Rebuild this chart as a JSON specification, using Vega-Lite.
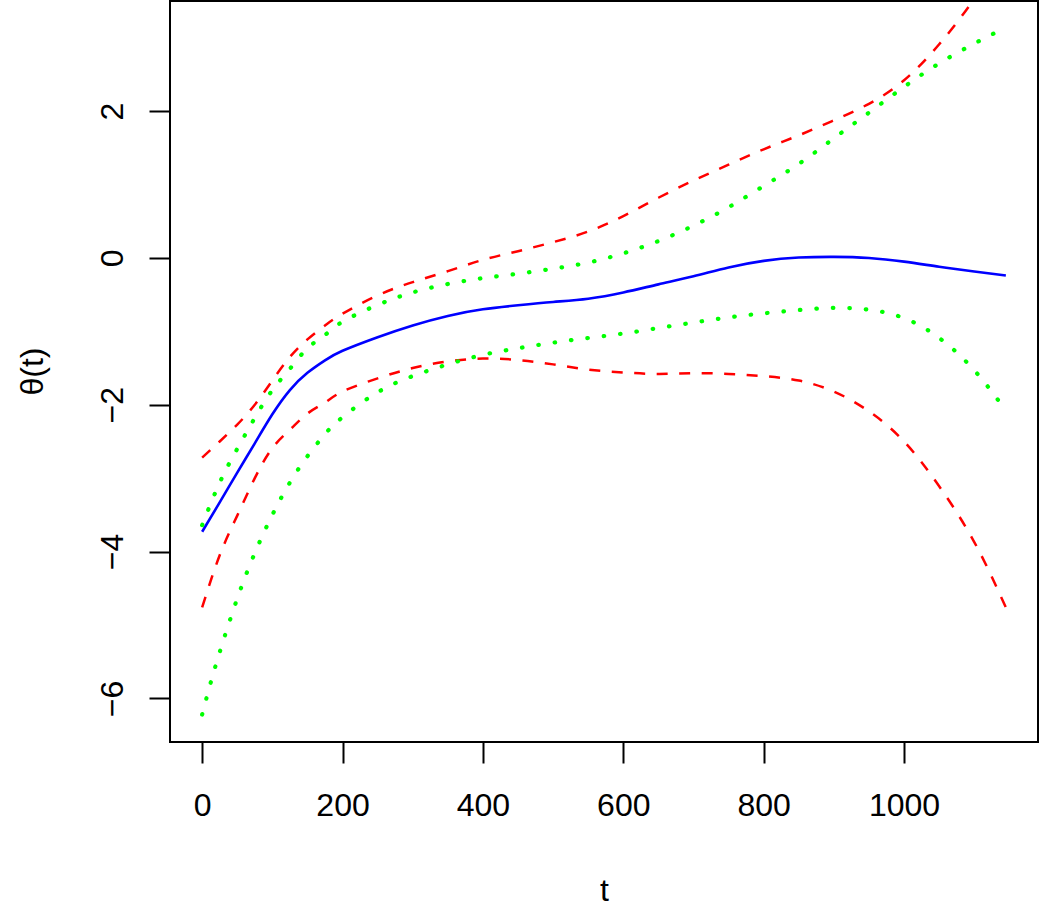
{
  "$schema": "https://vega.github.io/schema/vega-lite/v6.json",
  "width": 868,
  "height": 741,
  "autosize": "none",
  "padding": {"left": 170, "top": 1, "right": 12, "bottom": 167},
  "background": "white",
  "config": {
    "view": {"stroke": "black", "strokeWidth": 2},
    "axis": {
      "grid": false,
      "domain": false,
      "tickSize": 21,
      "tickWidth": 2,
      "tickColor": "black",
      "labelFont": "Liberation Sans",
      "labelFontSize": 32,
      "labelColor": "black",
      "labelFlush": false,
      "labelOverlap": false,
      "titleFont": "Liberation Sans",
      "titleFontSize": 32,
      "titleFontWeight": "normal",
      "titleColor": "black"
    }
  },
  "data": {
    "values": [
      {"t": 0, "v": -3.73, "kind": "fit", "curve": "fit"},
      {"t": 25, "v": -3.33, "kind": "fit", "curve": "fit"},
      {"t": 50, "v": -2.925, "kind": "fit", "curve": "fit"},
      {"t": 75, "v": -2.525, "kind": "fit", "curve": "fit"},
      {"t": 100, "v": -2.13, "kind": "fit", "curve": "fit"},
      {"t": 125, "v": -1.80, "kind": "fit", "curve": "fit"},
      {"t": 150, "v": -1.565, "kind": "fit", "curve": "fit"},
      {"t": 175, "v": -1.395, "kind": "fit", "curve": "fit"},
      {"t": 200, "v": -1.265, "kind": "fit", "curve": "fit"},
      {"t": 250, "v": -1.08, "kind": "fit", "curve": "fit"},
      {"t": 300, "v": -0.92, "kind": "fit", "curve": "fit"},
      {"t": 350, "v": -0.79, "kind": "fit", "curve": "fit"},
      {"t": 400, "v": -0.70, "kind": "fit", "curve": "fit"},
      {"t": 450, "v": -0.645, "kind": "fit", "curve": "fit"},
      {"t": 500, "v": -0.60, "kind": "fit", "curve": "fit"},
      {"t": 550, "v": -0.555, "kind": "fit", "curve": "fit"},
      {"t": 600, "v": -0.47, "kind": "fit", "curve": "fit"},
      {"t": 650, "v": -0.36, "kind": "fit", "curve": "fit"},
      {"t": 700, "v": -0.25, "kind": "fit", "curve": "fit"},
      {"t": 750, "v": -0.13, "kind": "fit", "curve": "fit"},
      {"t": 800, "v": -0.04, "kind": "fit", "curve": "fit"},
      {"t": 850, "v": 0.005, "kind": "fit", "curve": "fit"},
      {"t": 900, "v": 0.015, "kind": "fit", "curve": "fit"},
      {"t": 950, "v": 0.0, "kind": "fit", "curve": "fit"},
      {"t": 1000, "v": -0.05, "kind": "fit", "curve": "fit"},
      {"t": 1050, "v": -0.12, "kind": "fit", "curve": "fit"},
      {"t": 1100, "v": -0.185, "kind": "fit", "curve": "fit"},
      {"t": 1145, "v": -0.24, "kind": "fit", "curve": "fit"},

      {"t": 0, "v": -2.72, "kind": "ci", "curve": "ci_upper"},
      {"t": 25, "v": -2.50, "kind": "ci", "curve": "ci_upper"},
      {"t": 50, "v": -2.27, "kind": "ci", "curve": "ci_upper"},
      {"t": 75, "v": -2.00, "kind": "ci", "curve": "ci_upper"},
      {"t": 100, "v": -1.67, "kind": "ci", "curve": "ci_upper"},
      {"t": 125, "v": -1.35, "kind": "ci", "curve": "ci_upper"},
      {"t": 150, "v": -1.11, "kind": "ci", "curve": "ci_upper"},
      {"t": 175, "v": -0.92, "kind": "ci", "curve": "ci_upper"},
      {"t": 200, "v": -0.76, "kind": "ci", "curve": "ci_upper"},
      {"t": 250, "v": -0.51, "kind": "ci", "curve": "ci_upper"},
      {"t": 300, "v": -0.33, "kind": "ci", "curve": "ci_upper"},
      {"t": 350, "v": -0.18, "kind": "ci", "curve": "ci_upper"},
      {"t": 400, "v": -0.026, "kind": "ci", "curve": "ci_upper"},
      {"t": 450, "v": 0.092, "kind": "ci", "curve": "ci_upper"},
      {"t": 500, "v": 0.215, "kind": "ci", "curve": "ci_upper"},
      {"t": 550, "v": 0.36, "kind": "ci", "curve": "ci_upper"},
      {"t": 600, "v": 0.57, "kind": "ci", "curve": "ci_upper"},
      {"t": 650, "v": 0.82, "kind": "ci", "curve": "ci_upper"},
      {"t": 700, "v": 1.055, "kind": "ci", "curve": "ci_upper"},
      {"t": 750, "v": 1.27, "kind": "ci", "curve": "ci_upper"},
      {"t": 800, "v": 1.48, "kind": "ci", "curve": "ci_upper"},
      {"t": 850, "v": 1.67, "kind": "ci", "curve": "ci_upper"},
      {"t": 900, "v": 1.875, "kind": "ci", "curve": "ci_upper"},
      {"t": 950, "v": 2.10, "kind": "ci", "curve": "ci_upper"},
      {"t": 1000, "v": 2.42, "kind": "ci", "curve": "ci_upper"},
      {"t": 1050, "v": 2.91, "kind": "ci", "curve": "ci_upper"},
      {"t": 1100, "v": 3.53, "kind": "ci", "curve": "ci_upper"},
      {"t": 1145, "v": 4.2, "kind": "ci", "curve": "ci_upper"},

      {"t": 0, "v": -4.76, "kind": "ci", "curve": "ci_lower"},
      {"t": 25, "v": -4.05, "kind": "ci", "curve": "ci_lower"},
      {"t": 50, "v": -3.51, "kind": "ci", "curve": "ci_lower"},
      {"t": 75, "v": -3.00, "kind": "ci", "curve": "ci_lower"},
      {"t": 100, "v": -2.59, "kind": "ci", "curve": "ci_lower"},
      {"t": 125, "v": -2.34, "kind": "ci", "curve": "ci_lower"},
      {"t": 150, "v": -2.12, "kind": "ci", "curve": "ci_lower"},
      {"t": 175, "v": -1.97, "kind": "ci", "curve": "ci_lower"},
      {"t": 200, "v": -1.82, "kind": "ci", "curve": "ci_lower"},
      {"t": 250, "v": -1.64, "kind": "ci", "curve": "ci_lower"},
      {"t": 300, "v": -1.50, "kind": "ci", "curve": "ci_lower"},
      {"t": 350, "v": -1.41, "kind": "ci", "curve": "ci_lower"},
      {"t": 400, "v": -1.37, "kind": "ci", "curve": "ci_lower"},
      {"t": 450, "v": -1.39, "kind": "ci", "curve": "ci_lower"},
      {"t": 500, "v": -1.45, "kind": "ci", "curve": "ci_lower"},
      {"t": 550, "v": -1.52, "kind": "ci", "curve": "ci_lower"},
      {"t": 600, "v": -1.56, "kind": "ci", "curve": "ci_lower"},
      {"t": 650, "v": -1.58, "kind": "ci", "curve": "ci_lower"},
      {"t": 700, "v": -1.57, "kind": "ci", "curve": "ci_lower"},
      {"t": 750, "v": -1.58, "kind": "ci", "curve": "ci_lower"},
      {"t": 800, "v": -1.61, "kind": "ci", "curve": "ci_lower"},
      {"t": 850, "v": -1.67, "kind": "ci", "curve": "ci_lower"},
      {"t": 900, "v": -1.82, "kind": "ci", "curve": "ci_lower"},
      {"t": 950, "v": -2.09, "kind": "ci", "curve": "ci_lower"},
      {"t": 1000, "v": -2.50, "kind": "ci", "curve": "ci_lower"},
      {"t": 1050, "v": -3.11, "kind": "ci", "curve": "ci_lower"},
      {"t": 1100, "v": -3.87, "kind": "ci", "curve": "ci_lower"},
      {"t": 1145, "v": -4.76, "kind": "ci", "curve": "ci_lower"},

      {"t": 0, "v": -3.64, "kind": "band", "curve": "band_upper"},
      {"t": 25, "v": -3.06, "kind": "band", "curve": "band_upper"},
      {"t": 50, "v": -2.60, "kind": "band", "curve": "band_upper"},
      {"t": 75, "v": -2.18, "kind": "band", "curve": "band_upper"},
      {"t": 100, "v": -1.80, "kind": "band", "curve": "band_upper"},
      {"t": 125, "v": -1.51, "kind": "band", "curve": "band_upper"},
      {"t": 150, "v": -1.23, "kind": "band", "curve": "band_upper"},
      {"t": 175, "v": -1.05, "kind": "band", "curve": "band_upper"},
      {"t": 200, "v": -0.87, "kind": "band", "curve": "band_upper"},
      {"t": 250, "v": -0.64, "kind": "band", "curve": "band_upper"},
      {"t": 300, "v": -0.47, "kind": "band", "curve": "band_upper"},
      {"t": 350, "v": -0.355, "kind": "band", "curve": "band_upper"},
      {"t": 400, "v": -0.275, "kind": "band", "curve": "band_upper"},
      {"t": 450, "v": -0.215, "kind": "band", "curve": "band_upper"},
      {"t": 500, "v": -0.147, "kind": "band", "curve": "band_upper"},
      {"t": 550, "v": -0.063, "kind": "band", "curve": "band_upper"},
      {"t": 600, "v": 0.063, "kind": "band", "curve": "band_upper"},
      {"t": 650, "v": 0.23, "kind": "band", "curve": "band_upper"},
      {"t": 700, "v": 0.44, "kind": "band", "curve": "band_upper"},
      {"t": 750, "v": 0.69, "kind": "band", "curve": "band_upper"},
      {"t": 800, "v": 0.98, "kind": "band", "curve": "band_upper"},
      {"t": 850, "v": 1.28, "kind": "band", "curve": "band_upper"},
      {"t": 900, "v": 1.63, "kind": "band", "curve": "band_upper"},
      {"t": 950, "v": 1.98, "kind": "band", "curve": "band_upper"},
      {"t": 1000, "v": 2.33, "kind": "band", "curve": "band_upper"},
      {"t": 1050, "v": 2.65, "kind": "band", "curve": "band_upper"},
      {"t": 1100, "v": 2.92, "kind": "band", "curve": "band_upper"},
      {"t": 1145, "v": 3.14, "kind": "band", "curve": "band_upper"},

      {"t": 0, "v": -6.22, "kind": "band", "curve": "band_lower"},
      {"t": 10, "v": -5.86, "kind": "band", "curve": "band_lower"},
      {"t": 25, "v": -5.37, "kind": "band", "curve": "band_lower"},
      {"t": 50, "v": -4.64, "kind": "band", "curve": "band_lower"},
      {"t": 75, "v": -4.02, "kind": "band", "curve": "band_lower"},
      {"t": 100, "v": -3.50, "kind": "band", "curve": "band_lower"},
      {"t": 125, "v": -3.06, "kind": "band", "curve": "band_lower"},
      {"t": 150, "v": -2.70, "kind": "band", "curve": "band_lower"},
      {"t": 175, "v": -2.40, "kind": "band", "curve": "band_lower"},
      {"t": 200, "v": -2.17, "kind": "band", "curve": "band_lower"},
      {"t": 250, "v": -1.83, "kind": "band", "curve": "band_lower"},
      {"t": 300, "v": -1.61, "kind": "band", "curve": "band_lower"},
      {"t": 350, "v": -1.45, "kind": "band", "curve": "band_lower"},
      {"t": 400, "v": -1.32, "kind": "band", "curve": "band_lower"},
      {"t": 450, "v": -1.23, "kind": "band", "curve": "band_lower"},
      {"t": 500, "v": -1.155, "kind": "band", "curve": "band_lower"},
      {"t": 550, "v": -1.09, "kind": "band", "curve": "band_lower"},
      {"t": 600, "v": -1.03, "kind": "band", "curve": "band_lower"},
      {"t": 650, "v": -0.955, "kind": "band", "curve": "band_lower"},
      {"t": 700, "v": -0.88, "kind": "band", "curve": "band_lower"},
      {"t": 750, "v": -0.81, "kind": "band", "curve": "band_lower"},
      {"t": 800, "v": -0.755, "kind": "band", "curve": "band_lower"},
      {"t": 850, "v": -0.71, "kind": "band", "curve": "band_lower"},
      {"t": 900, "v": -0.68, "kind": "band", "curve": "band_lower"},
      {"t": 950, "v": -0.705, "kind": "band", "curve": "band_lower"},
      {"t": 1000, "v": -0.82, "kind": "band", "curve": "band_lower"},
      {"t": 1050, "v": -1.09, "kind": "band", "curve": "band_lower"},
      {"t": 1100, "v": -1.53, "kind": "band", "curve": "band_lower"},
      {"t": 1145, "v": -2.08, "kind": "band", "curve": "band_lower"}
    ]
  },
  "encoding": {
    "x": {
      "field": "t",
      "type": "quantitative",
      "scale": {"domain": [-45.8, 1190.8], "nice": false, "zero": false},
      "axis": {
        "values": [0, 200, 400, 600, 800, 1000],
        "format": "d",
        "title": "t",
        "labelPadding": 27,
        "titleX": 434,
        "titleY": 158,
        "titleAlign": "center",
        "titleBaseline": "alphabetic"
      }
    },
    "y": {
      "field": "v",
      "type": "quantitative",
      "scale": {"domain": [-6.594, 3.5], "nice": false, "zero": false},
      "axis": {
        "values": [-6, -4, -2, 0, 2],
        "format": "d",
        "title": "θ(t)",
        "labelAngle": -90,
        "labelAlign": "center",
        "labelBaseline": "alphabetic",
        "labelPadding": 27,
        "titleAngle": -90,
        "titleX": -128,
        "titleY": 370,
        "titleAlign": "center",
        "titleBaseline": "alphabetic"
      }
    }
  },
  "layer": [
    {
      "transform": [{"filter": "datum.kind == 'fit'"}],
      "mark": {"type": "line", "color": "#0000FF", "strokeWidth": 2.6, "interpolate": "natural", "clip": true},
      "encoding": {"detail": {"field": "curve"}}
    },
    {
      "transform": [{"filter": "datum.kind == 'ci'"}],
      "mark": {"type": "line", "color": "#FF0000", "strokeWidth": 2.5, "strokeDash": [11, 11.5], "strokeCap": "butt", "interpolate": "natural", "clip": true},
      "encoding": {"detail": {"field": "curve"}}
    },
    {
      "transform": [{"filter": "datum.kind == 'band'"}],
      "mark": {"type": "line", "color": "#00FF00", "strokeWidth": 4.2, "strokeDash": [0.5, 16], "strokeCap": "round", "interpolate": "natural", "clip": true},
      "encoding": {"detail": {"field": "curve"}}
    }
  ]
}
